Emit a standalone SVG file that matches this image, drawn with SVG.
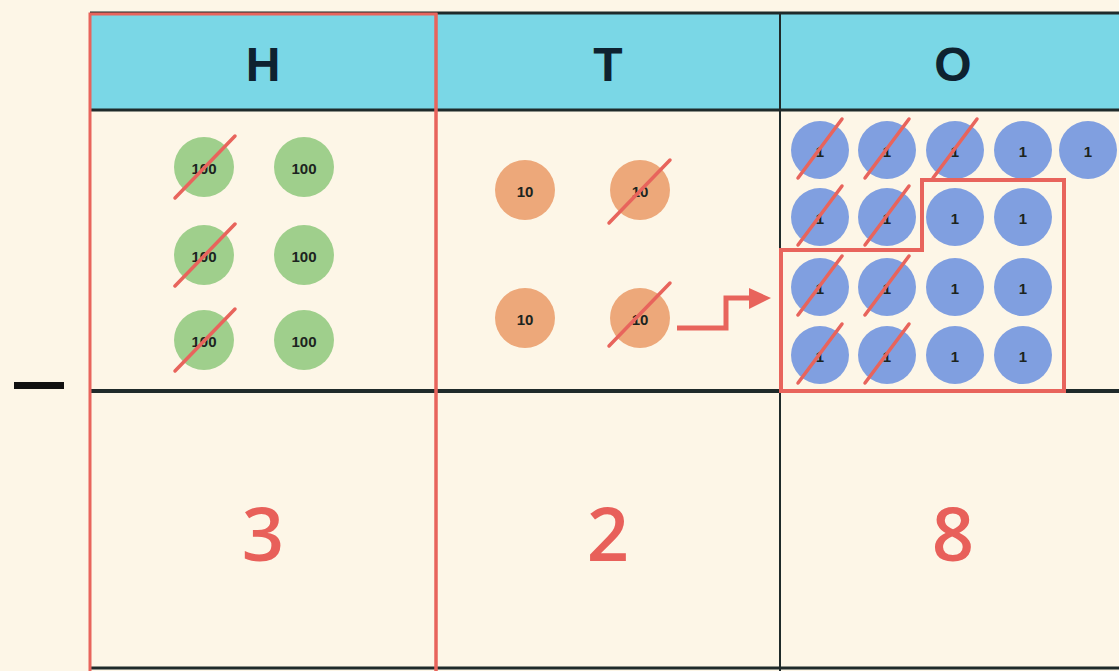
<svg xmlns="http://www.w3.org/2000/svg" width="1119" height="671" viewBox="0 0 1119 671">
<defs>
<style>
.bg{fill:#fdf6e7}
.hdr{fill:#7ad7e6}
.dark{stroke:#1f2a2a;fill:none}
.red{stroke:#e8645c;fill:none}
.htxt{font-family:"Liberation Sans",Arial,sans-serif;font-weight:bold;font-size:48px;fill:#0e2230;text-anchor:middle}
.num{font-family:"Open Sans","Liberation Sans",sans-serif;font-weight:600;font-size:74px;fill:#e8605a;text-anchor:middle}
.g{fill:#9fcf8c}
.o{fill:#eda87a}
.b{fill:#809fe0}
.ct{font-family:"Liberation Sans",Arial,sans-serif;font-weight:bold;font-size:15px;fill:#1c2420;text-anchor:middle;dominant-baseline:central}
.strike{stroke:#e8645c;stroke-width:3.5;stroke-linecap:round}
</style>
</defs>
<rect class="bg" x="0" y="0" width="1119" height="671"/>
<g id="table">
<rect class="hdr" x="90" y="13" width="1029" height="97"/>
<line class="dark" x1="90" y1="13" x2="1119" y2="13" stroke-width="3"/>
<line class="dark" x1="90" y1="110" x2="1119" y2="110" stroke-width="3"/>
<line class="dark" x1="90" y1="391" x2="1119" y2="391" stroke-width="4"/>
<line class="dark" x1="90" y1="668" x2="1119" y2="668" stroke-width="3"/>
<line class="dark" x1="780" y1="13" x2="780" y2="671" stroke-width="2"/>
<line class="red" x1="436" y1="13" x2="436" y2="671" stroke-width="3"/>
<rect class="red" x="90" y="14" width="346" height="660" stroke-width="3"/>
<text class="htxt" x="263" y="81">H</text>
<text class="htxt" x="608" y="81">T</text>
<text class="htxt" x="953" y="81">O</text>
</g>
<g id="minus"><rect x="14" y="382" width="50" height="7" fill="#111"/></g>
<g id="hundreds">
<circle class="g" cx="204" cy="167" r="30"/><text class="ct" x="204" y="168">100</text><line class="strike" x1="175" y1="198" x2="235" y2="136"/>
<circle class="g" cx="304" cy="167" r="30"/><text class="ct" x="304" y="168">100</text>
<circle class="g" cx="204" cy="255" r="30"/><text class="ct" x="204" y="256">100</text><line class="strike" x1="175" y1="286" x2="235" y2="224"/>
<circle class="g" cx="304" cy="255" r="30"/><text class="ct" x="304" y="256">100</text>
<circle class="g" cx="204" cy="340" r="30"/><text class="ct" x="204" y="341">100</text><line class="strike" x1="175" y1="371" x2="235" y2="309"/>
<circle class="g" cx="304" cy="340" r="30"/><text class="ct" x="304" y="341">100</text>
</g>
<g id="tens">
<circle class="o" cx="525" cy="190" r="30"/><text class="ct" x="525" y="191">10</text>
<circle class="o" cx="640" cy="190" r="30"/><text class="ct" x="640" y="191">10</text><line class="strike" x1="609" y1="223" x2="670" y2="160"/>
<circle class="o" cx="525" cy="318" r="30"/><text class="ct" x="525" y="319">10</text>
<circle class="o" cx="640" cy="318" r="30"/><text class="ct" x="640" y="319">10</text><line class="strike" x1="609" y1="346" x2="670" y2="283"/>
</g>
<g id="ones">
<circle class="b" cx="820" cy="150" r="29"/><text class="ct" x="820" y="151">1</text><line class="strike" x1="798" y1="178" x2="842" y2="119"/>
<circle class="b" cx="887" cy="150" r="29"/><text class="ct" x="887" y="151">1</text><line class="strike" x1="865" y1="178" x2="909" y2="119"/>
<circle class="b" cx="955" cy="150" r="29"/><text class="ct" x="955" y="151">1</text><line class="strike" x1="933" y1="178" x2="977" y2="119"/>
<circle class="b" cx="1023" cy="150" r="29"/><text class="ct" x="1023" y="151">1</text>
<circle class="b" cx="1088" cy="150" r="29"/><text class="ct" x="1088" y="151">1</text>
<circle class="b" cx="820" cy="217" r="29"/><text class="ct" x="820" y="218">1</text><line class="strike" x1="798" y1="245" x2="842" y2="186"/>
<circle class="b" cx="887" cy="217" r="29"/><text class="ct" x="887" y="218">1</text><line class="strike" x1="865" y1="245" x2="909" y2="186"/>
<circle class="b" cx="955" cy="217" r="29"/><text class="ct" x="955" y="218">1</text>
<circle class="b" cx="1023" cy="217" r="29"/><text class="ct" x="1023" y="218">1</text>
<circle class="b" cx="820" cy="287" r="29"/><text class="ct" x="820" y="288">1</text><line class="strike" x1="798" y1="315" x2="842" y2="256"/>
<circle class="b" cx="887" cy="287" r="29"/><text class="ct" x="887" y="288">1</text><line class="strike" x1="865" y1="315" x2="909" y2="256"/>
<circle class="b" cx="955" cy="287" r="29"/><text class="ct" x="955" y="288">1</text>
<circle class="b" cx="1023" cy="287" r="29"/><text class="ct" x="1023" y="288">1</text>
<circle class="b" cx="820" cy="355" r="29"/><text class="ct" x="820" y="356">1</text><line class="strike" x1="798" y1="383" x2="842" y2="324"/>
<circle class="b" cx="887" cy="355" r="29"/><text class="ct" x="887" y="356">1</text><line class="strike" x1="865" y1="383" x2="909" y2="324"/>
<circle class="b" cx="955" cy="355" r="29"/><text class="ct" x="955" y="356">1</text>
<circle class="b" cx="1023" cy="355" r="29"/><text class="ct" x="1023" y="356">1</text>
<path class="red" stroke-width="4" d="M922,180 L1064,180 L1064,391 L781,391 L781,250 L922,250 Z"/>
</g>
<g id="connectors">
<path class="red" stroke-width="5" d="M677,328 L726,328 L726,298 L752,298"/>
<path d="M749,288 L771,298 L749,309 Z" fill="#e8645c"/>
</g>
<g id="results">
<text class="num" x="263" y="561">3</text>
<text class="num" x="608" y="561">2</text>
<text class="num" x="953" y="561">8</text>
</g>
</svg>
